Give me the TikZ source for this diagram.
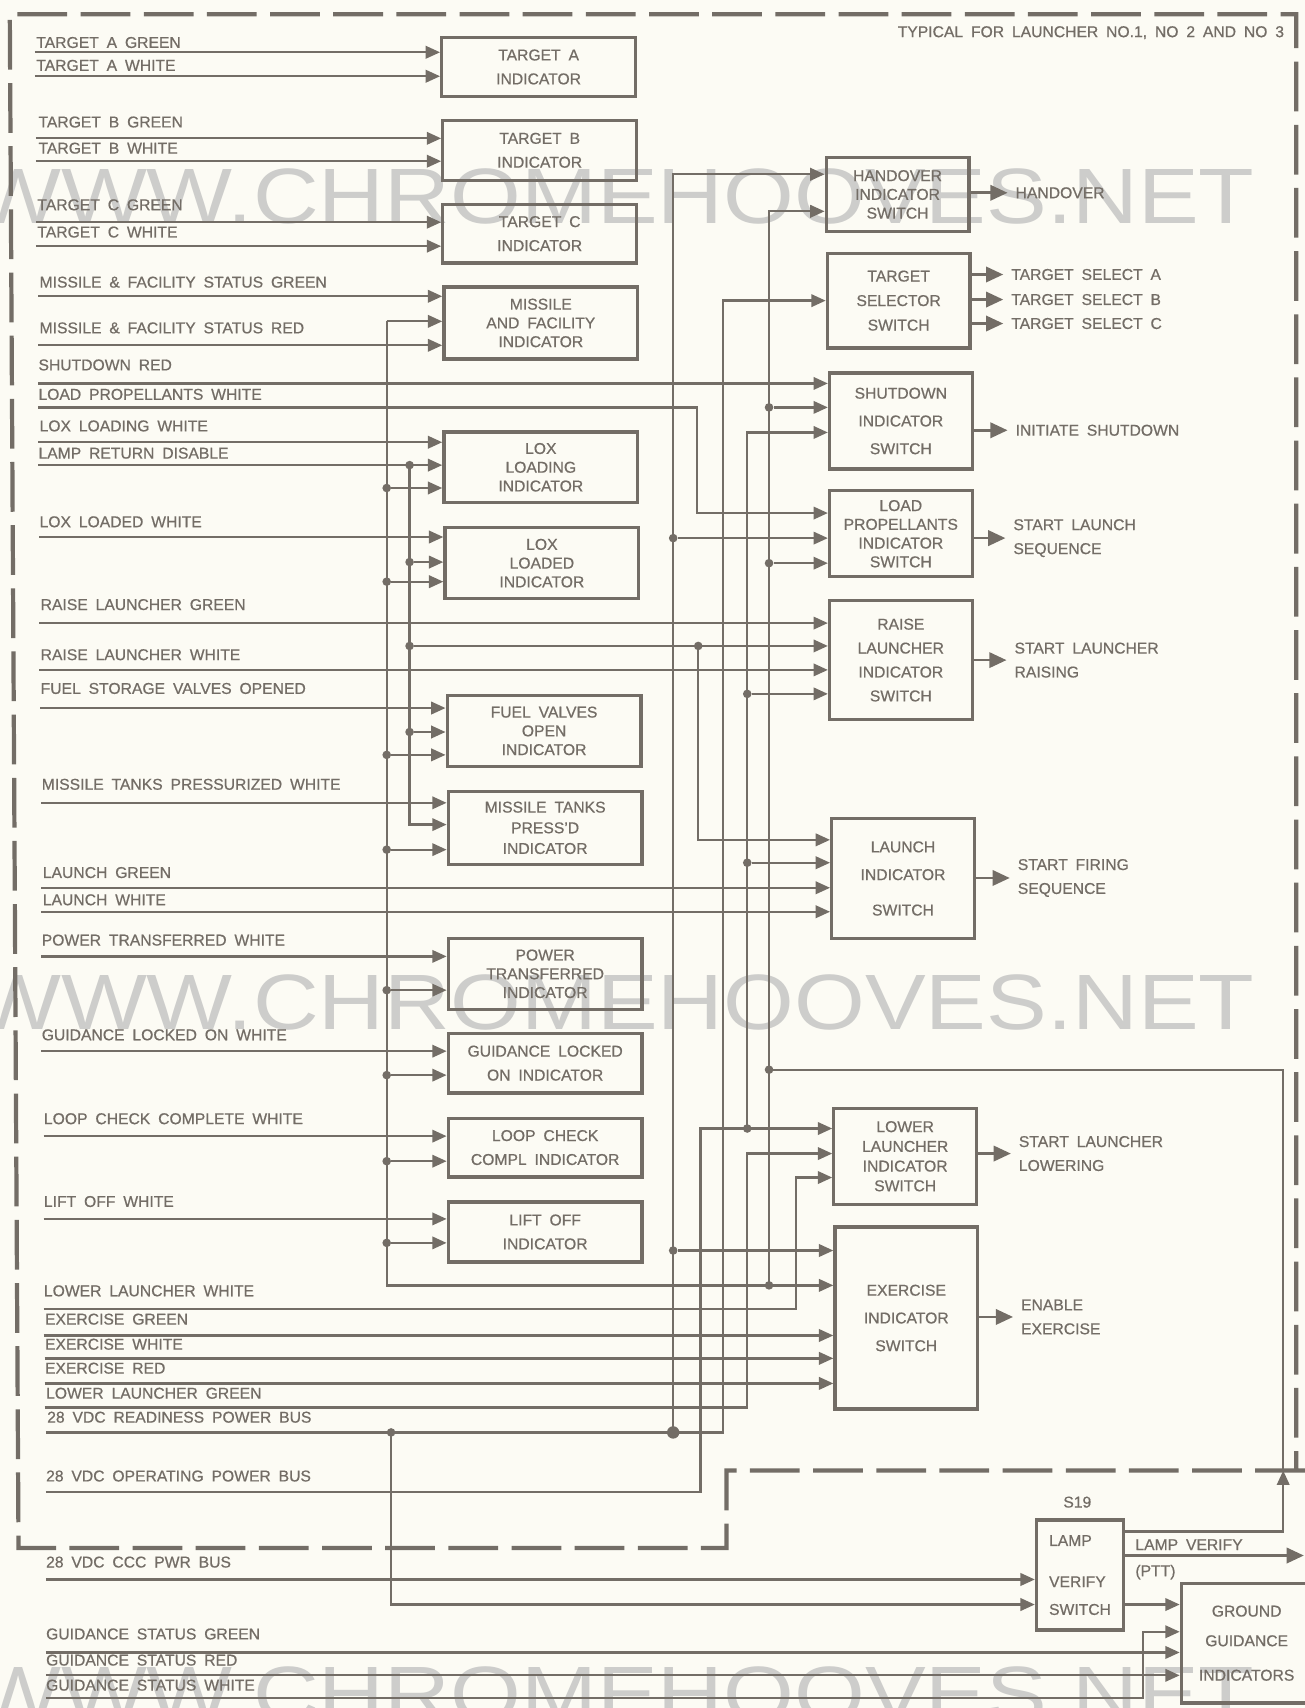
\documentclass[tikz,border=0pt]{standalone}
\usepackage{graphicx}
\usepackage{fontspec}
\setmainfont{Liberation Sans}[WordSpace=1.8, FakeBold=0.6]
\newfontfamily\wmfont{Liberation Sans}
\usetikzlibrary{arrows.meta,positioning}
\definecolor{ink}{HTML}{736D66}
\definecolor{paper}{HTML}{FCFBF4}
\definecolor{wmgray}{HTML}{CDCDCB}

\begin{document}
\begin{tikzpicture}[x=0.02cm, y=-0.02cm,
  every node/.style={font=\fontsize{8.2}{12.5}\selectfont, text=ink},
  lbl/.style={anchor=base west, inner sep=0pt},
  olbl/.style={anchor=west, inner sep=4pt, align=left},
  ind/.style={draw=ink, line width=1.7pt, anchor=north west, align=center, inner sep=0pt, minimum width=3.56cm},
  sw/.style={ind, minimum width=2.62cm},
  tight/.style={font=\fontsize{8.2}{9.8}\selectfont},
  wide/.style={font=\fontsize{8.2}{14.5}\selectfont},
  wire/.style={draw=ink, line width=1.2pt},
  feed/.style={wire, -{Triangle[length=7.5pt,width=6.5pt]}},
  res/.style={wire, line width=1.4pt, -{Triangle[length=9pt,width=8pt]}},
  jdot/.style={circle, fill=ink, inner sep=0pt, minimum size=4.5pt},
  fence/.style={draw=ink, line width=2.2pt, dash pattern=on 26pt off 7pt},
  wm/.style={text=wmgray, anchor=base east, inner sep=0pt, font=\wmfont\fontsize{41}{41}\selectfont}]
\useasboundingbox (0,0) rectangle (1198,1568);
\fill[paper] (0,0) rectangle (1198,1568);

% watermark
\node[wm] (wm1) at (1152,205) {\scalebox{1.16}[1]{WWW.CHROMEHOOVES.NET}};
\node[wm] (wm2) at (1152,945) {\scalebox{1.16}[1]{WWW.CHROMEHOOVES.NET}};
\node[wm] (wm3) at (1152,1580) {\scalebox{1.16}[1]{WWW.CHROMEHOOVES.NET}};

% launcher frame
\draw[fence] (1198,1350) -- (667,1350) -- (667,1421) -- (17,1421) -- (9,13) -- (1190,13) -- (1190,1350);
\node[anchor=east] (typ) at (1185,30) {TYPICAL FOR LAUNCHER NO.1, NO 2 AND NO 3};

% indicators
\node[ind, minimum height=1.08cm] (tgta) at (404,33) {TARGET A\\INDICATOR};
\node[ind, minimum height=1.10cm] (tgtb) at (405,109) {TARGET B\\INDICATOR};
\node[ind, minimum height=1.08cm] (tgtc) at (405,186) {TARGET C\\INDICATOR};
\node[ind, tight, minimum height=1.32cm] (mf) at (406,262) {MISSILE\\AND FACILITY\\INDICATOR};
\node[ind, tight, minimum height=1.30cm] (lxg) at (406,395) {LOX\\LOADING\\INDICATOR};
\node[ind, tight, minimum height=1.30cm] (lxd) at (407,483) {LOX\\LOADED\\INDICATOR};
\node[ind, tight, minimum height=1.30cm] (fv) at (409,637) {FUEL VALVES\\OPEN\\INDICATOR};
\node[ind, font=\fontsize{8.2}{10.8}\selectfont, minimum height=1.34cm] (mt) at (410,725) {MISSILE TANKS\\PRESS'D\\INDICATOR};
\node[ind, tight, minimum height=1.30cm] (ptr) at (410,860) {POWER\\TRANSFERRED\\INDICATOR};
\node[ind, minimum height=1.10cm] (gl) at (410,947) {GUIDANCE LOCKED\\ON INDICATOR};
\node[ind, minimum height=1.08cm] (lc) at (410,1025) {LOOP CHECK\\COMPL INDICATOR};
\node[ind, minimum height=1.10cm] (lo) at (410,1102) {LIFT OFF\\INDICATOR};

% switches
\node[sw, tight, minimum height=1.36cm] (ho) at (757,143) {HANDOVER\\INDICATOR\\SWITCH};
\node[sw, font=\fontsize{8.2}{12.8}\selectfont, minimum height=1.74cm] (ts) at (758,231) {TARGET\\SELECTOR\\SWITCH};
\node[sw, wide, minimum height=1.76cm] (sd) at (760,341) {SHUTDOWN\\INDICATOR\\SWITCH};
\node[sw, tight, minimum height=1.58cm] (lp) at (760,449) {LOAD\\PROPELLANTS\\INDICATOR\\SWITCH};
\node[sw, minimum height=2.18cm] (rl) at (760,550) {RAISE\\LAUNCHER\\INDICATOR\\SWITCH};
\node[sw, wide, minimum height=2.20cm] (la) at (762,750) {LAUNCH\\INDICATOR\\[4pt]SWITCH};
\node[sw, font=\fontsize{8.2}{10.3}\selectfont, minimum height=1.76cm] (ll) at (764,1016) {LOWER\\LAUNCHER\\INDICATOR\\SWITCH};
\node[sw, wide, minimum height=3.34cm] (exs) at (765,1125) {EXERCISE\\INDICATOR\\SWITCH};
\node[sw, wide, align=left, minimum width=1.6cm, minimum height=2.02cm] (lv) at (950,1394) {LAMP\\[7pt]VERIFY\\SWITCH};
\node[sw, wide, minimum width=2.4cm, minimum height=2.2cm] (gg) at (1083,1452) {GROUND\\[1pt]GUIDANCE\\[3.5pt]INDICATORS};
\node (s19) at (989,1379) {S19};

% outputs
\node[olbl] (hoq) at (925,177) {HANDOVER};
\node[olbl] (tsa) at (921,252) {TARGET SELECT A};
\node[olbl] (tsb) at (921,275) {TARGET SELECT B};
\node[olbl] (tsc) at (921,297) {TARGET SELECT C};
\node[olbl] (sdq) at (925,395) {INITIATE SHUTDOWN};
\node[olbl] (lpq) at (923,494) {START LAUNCH\\SEQUENCE};
\node[olbl] (rlq) at (924,606) {START LAUNCHER\\RAISING};
\node[olbl] (laq) at (927,806) {START FIRING\\SEQUENCE};
\node[olbl] (llq) at (928,1059) {START LAUNCHER\\LOWERING};
\node[olbl] (exq) at (930,1209) {ENABLE\\EXERCISE};
\draw[res] (hoq.west -| ho.east) -- (hoq.west);
\draw[res] (tsa.west -| ts.east) -- (tsa.west); \draw[res] (tsb.west -| ts.east) -- (tsb.west); \draw[res] (tsc.west -| ts.east) -- (tsc.west);
\draw[res] (sdq.west -| sd.east) -- (sdq.west); \draw[res] (lpq.west -| lp.east) -- (lpq.west);
\draw[res] (rlq.west -| rl.east) -- (rlq.west); \draw[res] (laq.west -| la.east) -- (laq.west);
\draw[res] (llq.west -| ll.east) -- (llq.west); \draw[res] (exq.west -| exs.east) -- (exq.west);

% inputs from the left edge
\coordinate (tag) at (32,48);   \node[lbl] (tagl) at (33,44) {TARGET A GREEN};
\coordinate (taw) at (32,70);   \node[lbl] (tawl) at (33,65) {TARGET A WHITE};
\coordinate (tbg) at (33,127);  \node[lbl] (tbgl) at (35,117) {TARGET B GREEN};
\coordinate (tbw) at (33,148);  \node[lbl] (tbwl) at (35,141) {TARGET B WHITE};
\coordinate (tcg) at (33,204);  \node[lbl] (tcgl) at (34,193) {TARGET C GREEN};
\coordinate (tcw) at (33,226);  \node[lbl] (tcwl) at (34,218) {TARGET C WHITE};
\coordinate (mfg) at (35,272);  \node[lbl] (mfgl) at (36,264) {MISSILE \& FACILITY STATUS GREEN};
\coordinate (mfr) at (35,317);  \node[lbl] (mfrl) at (36,306) {MISSILE \& FACILITY STATUS RED};
\coordinate (sdr) at (35,352);  \node[lbl] (sdrl) at (35,340) {SHUTDOWN RED};
\coordinate (lpw) at (35,374);  \node[lbl] (lpwl) at (35,367) {LOAD PROPELLANTS WHITE};
\coordinate (lxw) at (35,406);  \node[lbl] (lxwl) at (36,396) {LOX LOADING WHITE};
\coordinate (lrd) at (35,427);  \node[lbl] (lrdl) at (35,421) {LAMP RETURN DISABLE};
\coordinate (ldw) at (36,493);  \node[lbl] (ldwl) at (36,484) {LOX LOADED WHITE};
\coordinate (rlg) at (36,572);  \node[lbl] (rlgl) at (37,560) {RAISE LAUNCHER GREEN};
\coordinate (rlw) at (36,615);  \node[lbl] (rlwl) at (37,606) {RAISE LAUNCHER WHITE};
\coordinate (fso) at (37,650);  \node[lbl] (fsol) at (37,637) {FUEL STORAGE VALVES OPENED};
\coordinate (mtp) at (38,737);  \node[lbl] (mtpl) at (38,725) {MISSILE TANKS PRESSURIZED WHITE};
\coordinate (lag) at (38,815);  \node[lbl] (lagl) at (39,806) {LAUNCH GREEN};
\coordinate (law) at (38,837);  \node[lbl] (lawl) at (39,831) {LAUNCH WHITE};
\coordinate (ptw) at (38,878);  \node[lbl] (ptwl) at (38,868) {POWER TRANSFERRED WHITE};
\coordinate (glw) at (38,965);  \node[lbl] (glwl) at (38,955) {GUIDANCE LOCKED ON WHITE};
\coordinate (lcw) at (40,1043); \node[lbl] (lcwl) at (40,1032) {LOOP CHECK COMPLETE WHITE};
\coordinate (lfw) at (40,1119); \node[lbl] (lfwl) at (40,1108) {LIFT OFF WHITE};
\coordinate (llw) at (40,1202); \node[lbl] (llwl) at (40,1190) {LOWER LAUNCHER WHITE};
\coordinate (exg) at (40,1226); \node[lbl] (exgl) at (41,1216) {EXERCISE GREEN};
\coordinate (exw) at (41,1247); \node[lbl] (exwl) at (41,1239) {EXERCISE WHITE};
\coordinate (exr) at (41,1270); \node[lbl] (exrl) at (41,1261) {EXERCISE RED};
\coordinate (llg) at (41,1292); \node[lbl] (llgl) at (42,1284) {LOWER LAUNCHER GREEN};
\coordinate (rdy) at (42,1315); \node[lbl] (rdyl) at (43,1306) {28 VDC READINESS POWER BUS};
\coordinate (opb) at (42,1370); \node[lbl] (opbl) at (42,1360) {28 VDC OPERATING POWER BUS};
\coordinate (ccc) at (42,1450); \node[lbl] (cccl) at (42,1439) {28 VDC CCC PWR BUS};
\coordinate (gsg) at (42,1517); \node[lbl] (gsgl) at (42,1505) {GUIDANCE STATUS GREEN};
\coordinate (gsr) at (42,1538); \node[lbl] (gsrl) at (42,1529) {GUIDANCE STATUS RED};
\coordinate (gsw) at (42,1559); \node[lbl] (gswl) at (42,1552) {GUIDANCE STATUS WHITE};

\draw[feed] (tag) -- (tag -| tgta.west); \draw[feed] (taw) -- (taw -| tgta.west);
\draw[feed] (tbg) -- (tbg -| tgtb.west); \draw[feed] (tbw) -- (tbw -| tgtb.west);
\draw[feed] (tcg) -- (tcg -| tgtc.west); \draw[feed] (tcw) -- (tcw -| tgtc.west);
\draw[feed] (mfg) -- (mfg -| mf.west); \draw[feed] (mfr) -- (mfr -| mf.west);
\draw[feed] (sdr) -- (sdr -| sd.west);
\draw[feed] (lxw) -- (lxw -| lxg.west); \draw[feed] (lrd) -- (lrd -| lxg.west);
\draw[feed] (ldw) -- (ldw -| lxd.west);
\draw[feed] (rlg) -- (rlg -| rl.west); \draw[feed] (rlw) -- (rlw -| rl.west);
\draw[feed] (fso) -- (fso -| fv.west); \draw[feed] (mtp) -- (mtp -| mt.west);
\draw[feed] (lag) -- (lag -| la.west); \draw[feed] (law) -- (law -| la.west);
\draw[feed] (ptw) -- (ptw -| ptr.west); \draw[feed] (glw) -- (glw -| gl.west);
\draw[feed] (lcw) -- (lcw -| lc.west); \draw[feed] (lfw) -- (lfw -| lo.west);
\draw[feed] (exg) -- (exg -| exs.west); \draw[feed] (exw) -- (exw -| exs.west); \draw[feed] (exr) -- (exr -| exs.west);
\draw[feed] (ccc) -- (ccc -| lv.west);
\draw[feed] (gsg) -- (gsg -| gg.west); \draw[feed] (gsr) -- (gsr -| gg.west);

% bent feeds
\coordinate (lpk) at (640,471); \draw[feed] (lpw) -| (lpk) -- (lpk -| lp.west);
\coordinate (llk) at (731,1081); \draw[feed] (llw) -| (llk) -- (llk -| ll.west);
\coordinate (lgk) at (686,1059); \draw[feed] (llg) -| (lgk) -- (lgk -| ll.west);
\coordinate (opk) at (643,1036); \draw[feed] (opb) -| (opk) -- (opk -| ll.west);
\coordinate (gwk) at (1049,1498); \draw[feed] (gsw) -| (gwk) -- (gwk -| gg.west);

% readiness bus
\node[jdot] (q1) at (359,1315) {}; \node[jdot, minimum size=6.5pt] (q2) at (618,1315) {};
\coordinate (tsk) at (664,276); \draw[feed] (rdy) -| (tsk) -- (tsk -| ts.west);
\coordinate (lvk) at (359,1473); \draw[feed] (q1.center) -- (lvk) -- (lvk -| lv.west);
\coordinate (hok) at (618,160); \draw[feed] (q2.center) -- (hok) -- (hok -| ho.west);
\node[jdot] (q3) at (618,494) {}; \draw[feed] (q3) -- (q3 -| lp.west);
\node[jdot] (q4) at (618,1148) {}; \draw[feed] (q4) -- (q4 -| exs.west);

% lamp test bus
\coordinate (a0) at (355,295); \coordinate (a9) at (355,1180);
\draw[feed] (a0) -- (a0 -| mf.west); \draw[feed] (a0) -- (a9) -- (a9 -| exs.west);
\node[jdot] (a1) at (355,448) {}; \draw[feed] (a1) -- (a1 -| lxg.west);
\node[jdot] (a2) at (355,534) {}; \draw[feed] (a2) -- (a2 -| lxd.west);
\node[jdot] (a3) at (355,693) {}; \draw[feed] (a3) -- (a3 -| fv.west);
\node[jdot] (a4) at (355,780) {}; \draw[feed] (a4) -- (a4 -| mt.west);
\node[jdot] (a5) at (355,909) {}; \draw[feed] (a5) -- (a5 -| ptr.west);
\node[jdot] (a6) at (355,987) {}; \draw[feed] (a6) -- (a6 -| gl.west);
\node[jdot] (a7) at (355,1066) {}; \draw[feed] (a7) -- (a7 -| lc.west);
\node[jdot] (a8) at (355,1141) {}; \draw[feed] (a8) -- (a8 -| lo.west);
\node[jdot] (v4) at (706,1180) {}; \coordinate (v0) at (706,194);
\draw[feed] (v4.center) -- (v0) -- (v0 -| ho.west);
\node[jdot] (v1) at (706,374) {}; \draw[feed] (v1) -- (v1 -| sd.west);
\node[jdot] (v2) at (706,517) {}; \draw[feed] (v2) -- (v2 -| lp.west);
\node[jdot] (v3) at (706,982) {}; \coordinate (v5) at (1178,1350);
\draw[wire] (v3.center) -| (v5);

% lamp return bus
\node[jdot] (b0) at (376,427) {}; \coordinate (b4) at (376,757);
\draw[feed] (b0.center) -- (b4) -- (b4 -| mt.west);
\node[jdot] (b1) at (376,516) {}; \draw[feed] (b1) -- (b1 -| lxd.west);
\node[jdot] (b2) at (376,593) {}; \draw[feed] (b2) -- (b2 -| rl.west);
\node[jdot] (b3) at (376,672) {}; \draw[feed] (b3) -- (b3 -| fv.west);
\node[jdot] (r1) at (641,593) {}; \coordinate (lak) at (641,771);
\draw[feed] (r1.center) -- (lak) -- (lak -| la.west);

% shutdown / raise / launch common
\node[jdot] (w3) at (686,1036) {}; \coordinate (w0) at (686,397);
\draw[feed] (w3.center) -- (w0) -- (w0 -| sd.west);
\node[jdot] (w1) at (686,637) {}; \draw[feed] (w1) -- (w1 -| rl.west);
\node[jdot] (w2) at (686,792) {}; \draw[feed] (w2) -- (w2 -| la.west);

% lamp verify switch
\coordinate (lvt) at (1178,1406); \draw[feed] (lvt -| lv.east) -- (lvt) -- (v5);
\coordinate (lvr) at (1197,1428); \draw[res] (lvr -| lv.east) -- (lvr);
\node[lbl] (lvv) at (1042,1423) {LAMP VERIFY};
\node[lbl] (ptt) at (1042,1447) {(PTT)};
\draw[feed] (lvk -| lv.east) -- (lvk -| gg.west);
\end{tikzpicture}
\end{document}
